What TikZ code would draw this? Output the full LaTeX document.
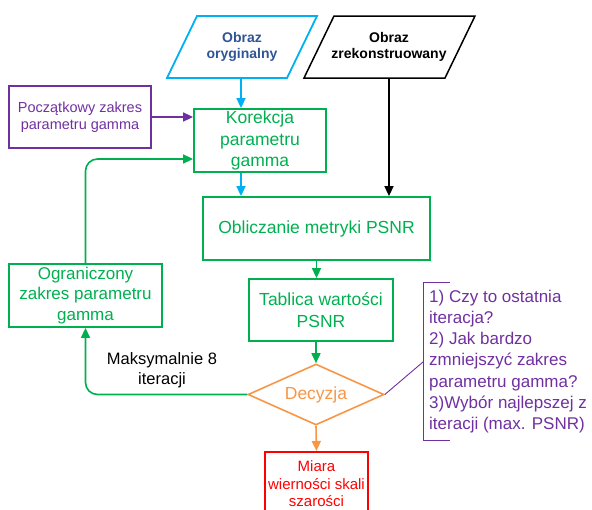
\documentclass[tikz,border=0pt]{standalone}
\usepackage{fontspec}
\setmainfont{Liberation Sans}
\usetikzlibrary{arrows.meta,shapes.geometric}

\definecolor{cgreen}{HTML}{00B050}
\definecolor{cblue}{HTML}{00B0F0}
\definecolor{cnavy}{HTML}{2F5597}
\definecolor{cpurple}{HTML}{7030A0}
\definecolor{corange}{HTML}{F79646}
\definecolor{cred}{HTML}{FF0000}

\tikzset{
  box/.style={draw, line width=1.8pt, align=center, inner sep=0pt},
  greenbox/.style={box, draw=cgreen, text=cgreen,
    font=\fontsize{17.5}{21.7}\selectfont},
  tip/.style={-{Triangle[length=10pt,width=9pt]}},
  flow/.style={tip, line width=1.6pt},
}

\begin{document}
\begin{tikzpicture}[x=1pt,y=-1pt]
\useasboundingbox (0,0) rectangle (592,509);
\clip (0,0) rectangle (592,509);

% input parallelograms
\draw[cblue, line width=1.8pt] (167,78) -- (197,16) -- (317,16) -- (287,78) -- cycle;
\node[text=cnavy, align=center, font=\bfseries\fontsize{14}{16.7}\selectfont] (orig) at (242,47) {Obraz\\oryginalny};
\coordinate (origB) at (241,78);

\draw[black, line width=1.5pt] (304,78) -- (334,16) -- (475,16) -- (445,78) -- cycle;
\node[text=black, align=center, font=\bfseries\fontsize{14}{16.7}\selectfont] (rec) at (389,47) {Obraz\\zrekonstruowany};
\coordinate (recB) at (389,78);

% process boxes
\node[box, draw=cpurple, text=cpurple, minimum width=142pt, minimum height=62pt,
  font=\fontsize{14.5}{17.3}\selectfont] (pocz) at (80,117) {Początkowy zakres\\parametru gamma};
\node[greenbox, minimum width=132pt, minimum height=63pt] (kor) at (260,140.5) {Korekcja\\parametru\\gamma};
\node[greenbox, minimum width=227pt, minimum height=63pt] (obl) at (316.5,228.5) {Obliczanie metryki PSNR};
\node[greenbox, minimum width=144pt, minimum height=62pt] (tab) at (321,310) {Tablica wartości\\PSNR};
\node[greenbox, minimum width=153pt, minimum height=63pt,
  font=\fontsize{17}{20.7}\selectfont] (ogr) at (85.5,295.5) {Ograniczony\\zakres parametru\\gamma};
\node[draw=corange, line width=1.6pt, shape=diamond, inner sep=0pt, aspect=2.23,
  minimum width=136pt, minimum height=61pt, text=corange,
  font=\fontsize{17.5}{21}\selectfont] (dec) at (316,394.5) {Decyzja};
\node[box, draw=cred, text=cred, minimum width=103pt, minimum height=64pt, anchor=north,
  font=\fontsize{15}{17.5}\selectfont] (mia) at (316.5,451) {Miara\\wierności skali\\szarości};

% loop label
\node[align=center, font=\fontsize{16.5}{20}\selectfont] (maks) at (162,370) {Maksymalnie 8\\iteracji};

% annotation with bracket
\draw[cpurple, line width=0.9pt] (450,282) -- (423,282) -- (423,440) -- (450,440);
\coordinate (brk) at (423,362);
\draw[cpurple, line width=0.9pt] (dec.east) -- (brk);
\node[anchor=west, align=left, text=cpurple, inner sep=0pt,
  font=\fontsize{17}{21.1}\selectfont] (note) at (429,361.5)
  {1) Czy to ostatnia\\iteracja?\\2) Jak bardzo\\zmniejszyć zakres\\parametru gamma?\\3)Wybór najlepszej z\\iteracji (max. PSNR)};

% connectors
\draw[flow, cblue] (origB) -- (origB |- kor.north);
\draw[flow, cblue] (kor.south -| origB) -- (obl.north -| origB);
\draw[flow, black, line width=1.5pt] (recB) -- (recB |- obl.north);
\draw[flow, cpurple] (pocz.east) -- (kor.west |- pocz.east);
\draw[flow, cgreen, rounded corners=12pt] (ogr.north) |- ([yshift=-18.5pt]kor.west);
\draw[flow, cgreen] (obl.south) -- (obl.south |- tab.north);
\draw[flow, cgreen] (tab.south -| dec.north) -- (dec.north);
\draw[flow, cgreen, rounded corners=12pt] (dec.west) -| (ogr.south);
\draw[flow, corange] (dec.south) -- (mia.north);
\end{tikzpicture}
\end{document}
